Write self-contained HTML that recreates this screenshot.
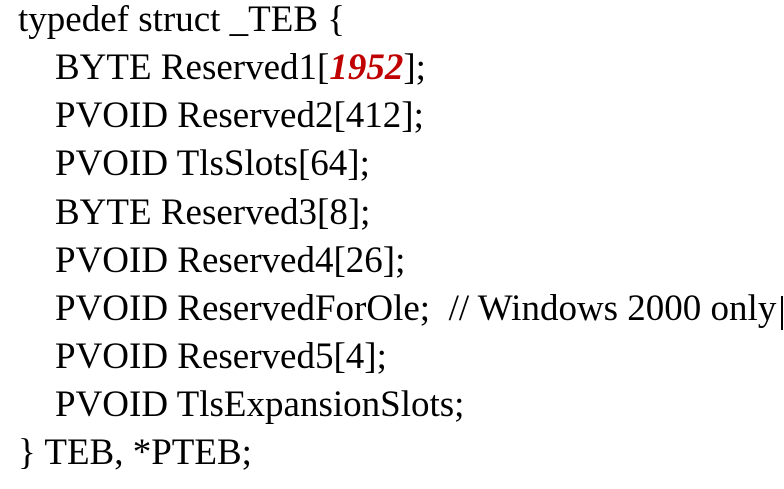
<!DOCTYPE html>
<html><head><style>
html,body{margin:0;padding:0;background:#fff;width:784px;height:489px;overflow:hidden}
.l{position:absolute;font-family:"Liberation Serif",serif;font-size:37px;color:#000;white-space:pre;line-height:1}
.r{color:#c00000;font-weight:bold;font-style:italic}
</style></head><body>
<div class="l" style="left:18px;top:1px">typedef struct _TEB {</div>
<div class="l" style="left:55px;top:49px">BYTE Reserved1[<span class="r">1952</span>];</div>
<div class="l" style="left:55px;top:97px">PVOID Reserved2[412];</div>
<div class="l" style="left:55px;top:145px">PVOID TlsSlots[64];</div>
<div class="l" style="left:55px;top:194px">BYTE Reserved3[8];</div>
<div class="l" style="left:55px;top:242px">PVOID Reserved4[26];</div>
<div class="l" style="left:55px;top:290px">PVOID ReservedForOle;  // Windows 2000 only</div>
<div style="position:absolute;left:781px;top:296px;width:2px;height:34px;background:#000"></div>
<div class="l" style="left:55px;top:338px">PVOID Reserved5[4];</div>
<div class="l" style="left:55px;top:386px">PVOID TlsExpansionSlots;</div>
<div class="l" style="left:18px;top:434px">} TEB, *PTEB;</div>
</body></html>
